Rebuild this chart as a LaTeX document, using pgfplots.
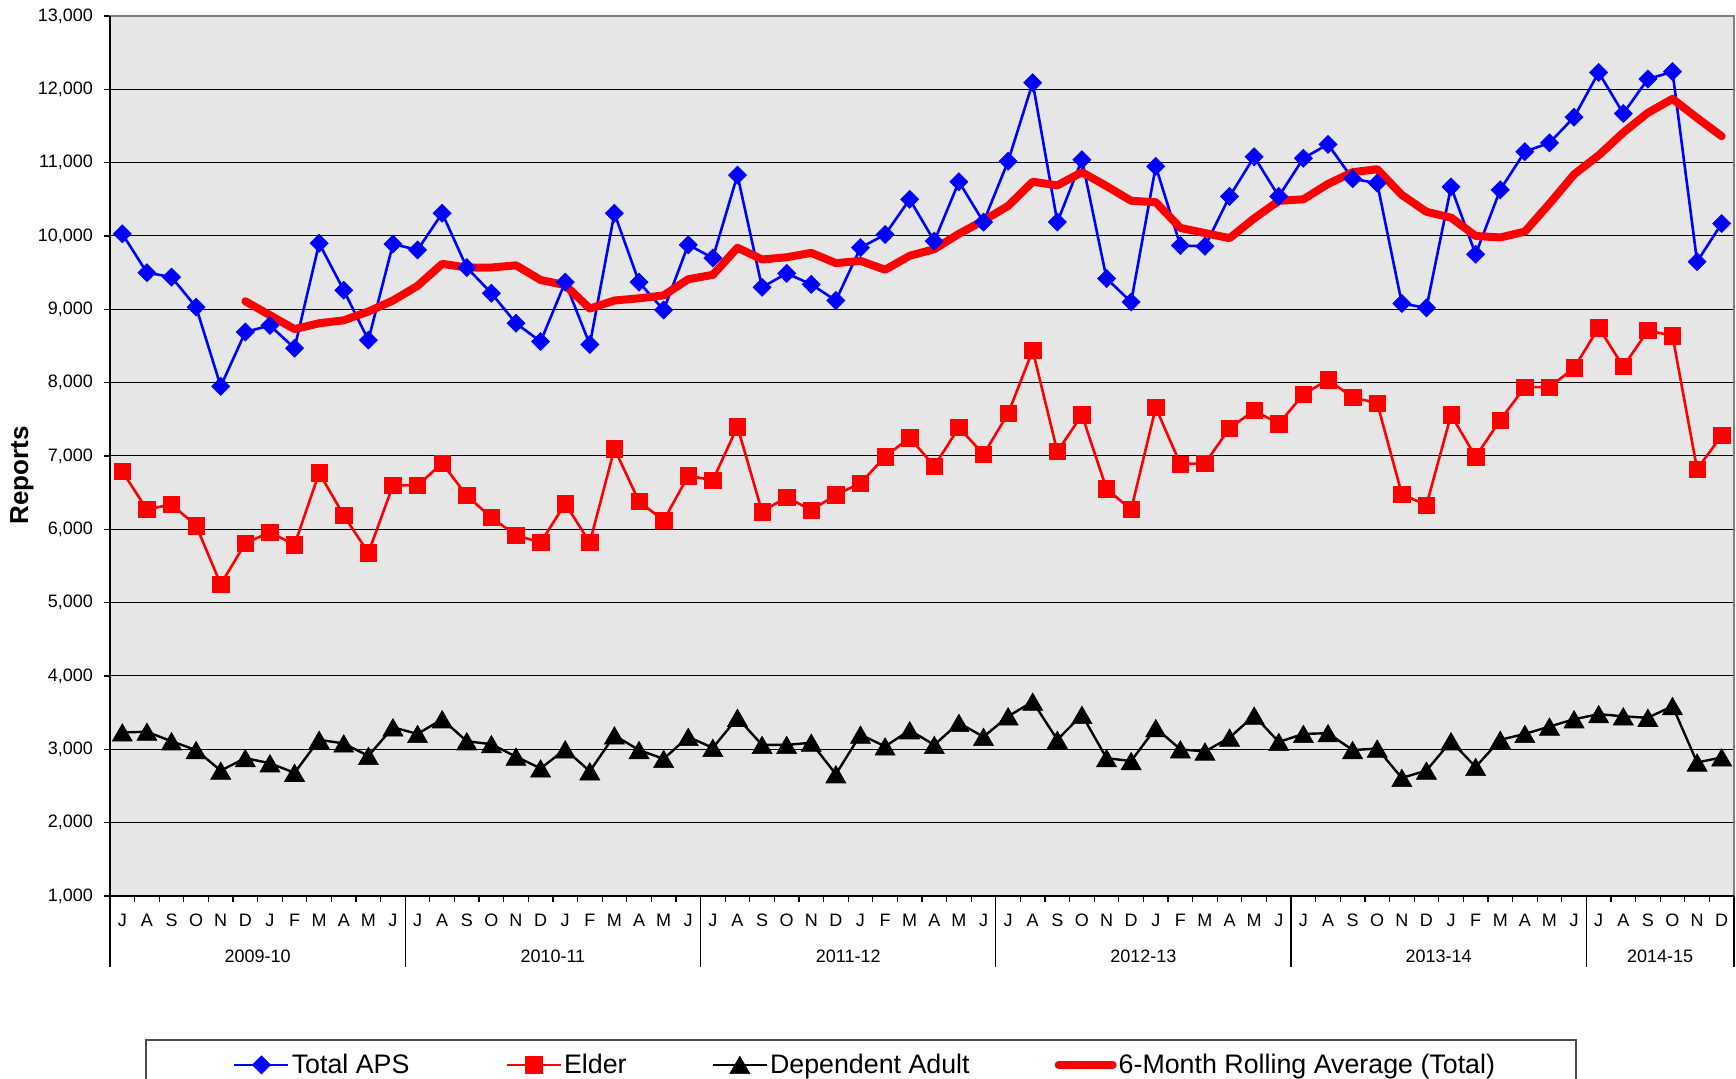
\documentclass[border=0pt]{standalone}
\usepackage{pgfplots}
\pgfplotsset{compat=1.18}
\usepackage{fontspec}
\setmainfont{Liberation Sans}
\definecolor{bgG}{RGB}{230,230,230}
\definecolor{frameG}{RGB}{128,128,128}
\begin{document}
\begin{tikzpicture}
\path[use as bounding box] (-55pt,-91.5pt) rectangle (813pt,448pt);
\begin{axis}[
  scale only axis, width=812pt, height=440pt,
  xmin=-0.5, xmax=65.5, ymin=1000, ymax=13000,
  clip=false,
  axis background/.style={fill=bgG},
  axis line style={draw=frameG, line width=1.2pt},
  ytick={1000,2000,...,13000},
  yticklabels={{1,000},{2,000},{3,000},{4,000},{5,000},{6,000},{7,000},{8,000},{9,000},{10,000},{11,000},{12,000},{13,000}},
  ymajorgrids,
  grid style={black, line width=0.5pt},
  xtick={0,1,...,65},
  xticklabels={J,A,S,O,N,D,J,F,M,A,M,J,J,A,S,O,N,D,J,F,M,A,M,J,J,A,S,O,N,D,J,F,M,A,M,J,J,A,S,O,N,D,J,F,M,A,M,J,J,A,S,O,N,D,J,F,M,A,M,J,J,A,S,O,N,D},
  minor xtick={-0.5,0.5,...,65.5},
  tick pos=left,
  tick align=outside,
  major tick length=3pt, minor tick length=3pt,
  major x tick style={draw=none},
  tick style={black, line width=0.6pt},
  every tick label/.append style={font=\fontsize{9}{10}\selectfont},
  xticklabel style={anchor=center, yshift=-9pt},
  yticklabel style={xshift=-2pt},
  ylabel={Reports},
  ylabel style={font=\bfseries\fontsize{13}{14}\selectfont, at={(axis description cs:-0.0542,0.478)}, anchor=center},
  legend columns=4,
  legend style={at={(axis description cs:0.0756,-0.1920)}, anchor=west, draw=none, fill=none, inner sep=0pt,
    font=\fontsize{13.4}{15}\selectfont, nodes={inner sep=1pt},
    /tikz/every even column/.append style={column sep=41.5pt}},
  legend cell align=left,
  legend image code/.code={\draw[mark repeat=2,mark phase=2] plot coordinates {(0pt,0pt) (13.5pt,0pt) (27pt,0pt)};},
]
\addplot[blue, line width=1.3pt, mark=square*, mark size=3.2pt, mark options={rotate=45, solid, fill=blue, draw=blue, line width=0.3pt}] coordinates {
(0,10030) (1,9500) (2,9440) (3,9030) (4,7950) (5,8690) (6,8780) (7,8470) (8,9900) (9,9260) (10,8580) (11,9890)
(12,9810) (13,10310) (14,9570) (15,9220) (16,8810) (17,8560) (18,9370) (19,8520) (20,10310) (21,9370) (22,8990) (23,9880)
(24,9700) (25,10830) (26,9300) (27,9490) (28,9340) (29,9120) (30,9840) (31,10020) (32,10500) (33,9930) (34,10740) (35,10190)
(36,11020) (37,12090) (38,10190) (39,11040) (40,9420) (41,9100) (42,10950) (43,9870) (44,9860) (45,10540) (46,11080) (47,10540)
(48,11060) (49,11250) (50,10780) (51,10720) (52,9080) (53,9020) (54,10670) (55,9750) (56,10630) (57,11150) (58,11270) (59,11620)
(60,12230) (61,11670) (62,12140) (63,12240) (64,9650) (65,10170)};
\addlegendentry{Total APS\rule{5.5pt}{0pt}}
\addplot[red, line width=1.3pt, mark=square*, mark size=4.1pt, mark options={solid, fill=red, draw=red, line width=0.3pt}] coordinates {
(0,6790) (1,6270) (2,6340) (3,6050) (4,5250) (5,5810) (6,5960) (7,5790) (8,6770) (9,6190) (10,5680) (11,6600)
(12,6600) (13,6900) (14,6460) (15,6160) (16,5920) (17,5820) (18,6350) (19,5820) (20,7100) (21,6380) (22,6120) (23,6730)
(24,6670) (25,7400) (26,6240) (27,6440) (28,6260) (29,6470) (30,6630) (31,6990) (32,7250) (33,6860) (34,7390) (35,7020)
(36,7580) (37,8440) (38,7060) (39,7560) (40,6550) (41,6270) (42,7660) (43,6890) (44,6900) (45,7380) (46,7620) (47,7440)
(48,7840) (49,8040) (50,7800) (51,7720) (52,6480) (53,6330) (54,7560) (55,6990) (56,7490) (57,7940) (58,7940) (59,8200)
(60,8750) (61,8220) (62,8710) (63,8640) (64,6820) (65,7280)};
\addlegendentry{Elder}
\addplot[black, line width=1.2pt, mark=triangle*, mark size=5.8pt, mark options={solid, fill=black, line width=0.3pt, yshift=-1.45pt}] coordinates {
(0,3230) (1,3240) (2,3110) (3,2990) (4,2710) (5,2880) (6,2810) (7,2680) (8,3130) (9,3080) (10,2910) (11,3300)
(12,3210) (13,3410) (14,3110) (15,3070) (16,2900) (17,2740) (18,3000) (19,2700) (20,3190) (21,2990) (22,2870) (23,3170)
(24,3020) (25,3430) (26,3060) (27,3060) (28,3090) (29,2660) (30,3200) (31,3040) (32,3260) (33,3060) (34,3360) (35,3170)
(36,3450) (37,3650) (38,3130) (39,3470) (40,2880) (41,2840) (42,3290) (43,3000) (44,2970) (45,3160) (46,3460) (47,3100)
(48,3210) (49,3220) (50,2990) (51,3010) (52,2610) (53,2710) (54,3110) (55,2760) (56,3130) (57,3210) (58,3310) (59,3410)
(60,3480) (61,3450) (62,3430) (63,3590) (64,2820) (65,2890)};
\addlegendentry{Dependent Adult}
\addplot[red, line width=4pt, line cap=round, line join=round, mark=none] coordinates {
(5,9110) (6,8920) (7,8730) (8,8810) (9,8850) (10,8970) (11,9120)
(12,9320) (13,9620) (14,9570) (15,9570) (16,9600) (17,9400) (18,9330) (19,9010) (20,9120) (21,9150) (22,9190) (23,9410)
(24,9470) (25,9840) (26,9680) (27,9710) (28,9770) (29,9630) (30,9660) (31,9540) (32,9730) (33,9820) (34,10030) (35,10210)
(36,10410) (37,10740) (38,10690) (39,10870) (40,10680) (41,10480) (42,10460) (43,10110) (44,10040) (45,9970) (46,10240) (47,10480)
(48,10500) (49,10710) (50,10870) (51,10910) (52,10560) (53,10330) (54,10250) (55,10000) (56,9980) (57,10060) (58,10440) (59,10840)
(60,11100) (61,11410) (62,11680) (63,11870) (64,11610) (65,11360)};
\addlegendentry{6-Month Rolling Average (Total)}
% left and bottom axis lines
\draw[black, line width=1pt] (axis cs:-0.5,13000) -- (axis cs:-0.5,1000) -- (axis cs:65.5,1000);
% year separators
\draw[black, line width=0.6pt] (axis cs:-0.5,1000) -- ([yshift=-35.5pt]axis cs:-0.5,1000);
\draw[black, line width=0.6pt] (axis cs:11.5,1000) -- ([yshift=-35.5pt]axis cs:11.5,1000);
\draw[black, line width=0.6pt] (axis cs:23.5,1000) -- ([yshift=-35.5pt]axis cs:23.5,1000);
\draw[black, line width=0.6pt] (axis cs:35.5,1000) -- ([yshift=-35.5pt]axis cs:35.5,1000);
\draw[black, line width=0.6pt] (axis cs:47.5,1000) -- ([yshift=-35.5pt]axis cs:47.5,1000);
\draw[black, line width=0.6pt] (axis cs:59.5,1000) -- ([yshift=-35.5pt]axis cs:59.5,1000);
\draw[black, line width=0.6pt] (axis cs:65.5,1000) -- ([yshift=-35.5pt]axis cs:65.5,1000);
\node[font=\fontsize{9}{10}\selectfont, anchor=center] at ([yshift=-30pt]axis cs:5.5,1000) {2009-10};
\node[font=\fontsize{9}{10}\selectfont, anchor=center] at ([yshift=-30pt]axis cs:17.5,1000) {2010-11};
\node[font=\fontsize{9}{10}\selectfont, anchor=center] at ([yshift=-30pt]axis cs:29.5,1000) {2011-12};
\node[font=\fontsize{9}{10}\selectfont, anchor=center] at ([yshift=-30pt]axis cs:41.5,1000) {2012-13};
\node[font=\fontsize{9}{10}\selectfont, anchor=center] at ([yshift=-30pt]axis cs:53.5,1000) {2013-14};
\node[font=\fontsize{9}{10}\selectfont, anchor=center] at ([yshift=-30pt]axis cs:62.5,1000) {2014-15};
\end{axis}
\draw[black!70, line width=0.8pt] (18pt,-72pt) rectangle (733pt,-130pt);
\end{tikzpicture}
\end{document}
